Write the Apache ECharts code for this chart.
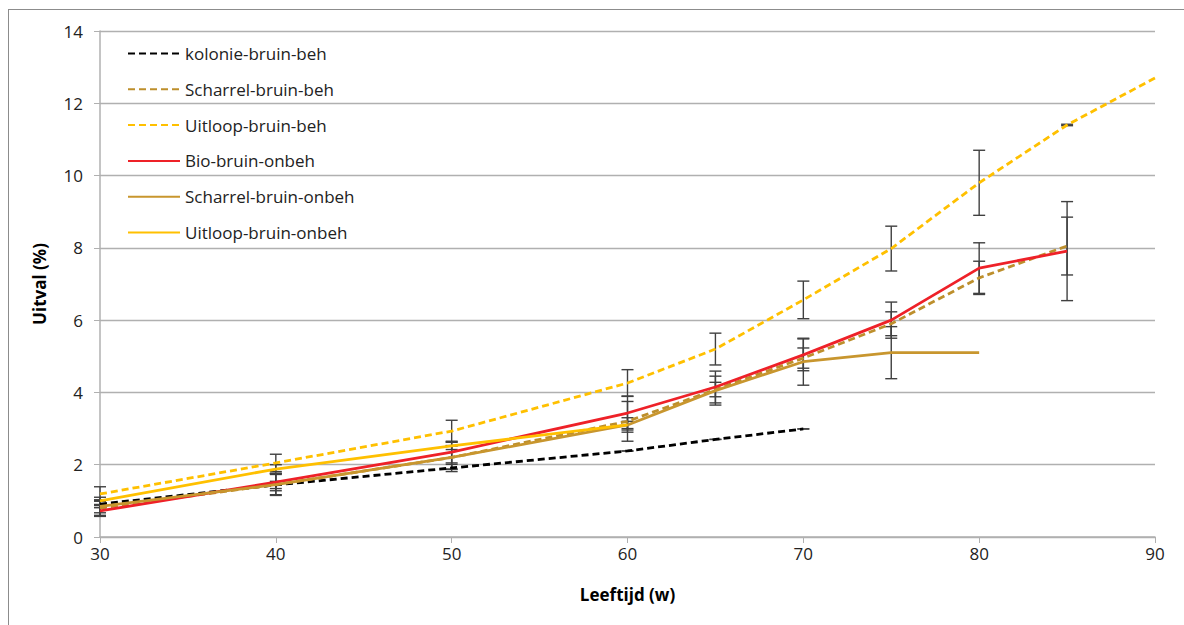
<!DOCTYPE html>
<html>
<head>
<meta charset="utf-8">
<script src="https://cdn.jsdelivr.net/npm/echarts@6/dist/echarts.min.js"></script>
<style>
  html, body { margin: 0; padding: 0; background: #fff; }
  #frame { position: absolute; left: 8px; top: 9px; width: 1190px; height: 640px; border: 1px solid #8c8c8c; box-sizing: border-box; }
  #chart { position: absolute; left: 0; top: 0; width: 1184px; height: 625px; }
</style>
</head>
<body>
<div id="frame"></div>
<div id="chart"></div>
<script>
var ages = [30, 40, 50, 60, 65, 70, 75, 80, 85, 90];

var names = ['kolonie-bruin-beh', 'Scharrel-bruin-beh', 'Uitloop-bruin-beh',
  'Bio-bruin-onbeh', 'Scharrel-bruin-onbeh', 'Uitloop-bruin-onbeh'];

// null = no measurement at that age
var kolonieBeh    = [0.91, 1.44, 1.91, 2.38, 2.70, 2.99, null, null, null, null];
var scharrelBeh   = [0.80, 1.45, 2.20, 3.20, 4.08, 4.95, 5.90, 7.17, 8.05, null];
var uitloopBeh    = [1.19, 2.05, 2.93, 4.26, 5.20, 6.56, 7.98, 9.80, 11.40, 12.70];
var bioOnbeh      = [0.72, 1.52, 2.35, 3.43, 4.15, 5.04, 6.00, 7.44, 7.91, null];
var scharrelOnbeh = [0.85, 1.45, 2.20, 3.10, 4.05, 4.85, 5.10, 5.10, null, null];
var uitloopOnbeh  = [1.00, 1.88, 2.52, 3.10, null, null, null, null, null, null];

// error bar half widths (+/-)
var errKolonieBeh    = [0.10, 0.10, 0.10, 0, 0, 0, null, null, null, null];
var errScharrelBeh   = [0.20, 0.28, 0.33, 0.55, 0.20, 0.28, 0.33, 0.46, 0.80, null];
var errUitloopBeh    = [0.20, 0.24, 0.30, 0.37, 0.44, 0.52, 0.62, 0.90, 0.02, null];
var errBioOnbeh      = [0.15, 0.24, 0.30, 0.47, 0.44, 0.44, 0.50, 0.70, 1.37, null];
var errScharrelOnbeh = [0.18, 0.30, 0.32, 0.20, 0.40, 0.65, 0.72, null, null, null];
var errUitloopOnbeh  = [0.10, 0.12, 0.10, 0.10, null, null, null, null, null, null];

var colors = ['#000000', '#BD8F2C', '#FFC000', '#EE2128', '#C8962E', '#FFC000'];
var dashed = [true, true, true, false, false, false];
var values = [kolonieBeh, scharrelBeh, uitloopBeh, bioOnbeh, scharrelOnbeh, uitloopOnbeh];
var errors = [errKolonieBeh, errScharrelBeh, errUitloopBeh, errBioOnbeh, errScharrelOnbeh, errUitloopOnbeh];

var font = '"Open Sans", "Liberation Sans", sans-serif';

function pairs(vals) {
  var out = [];
  for (var i = 0; i < ages.length; i++) {
    if (vals[i] != null) out.push([ages[i], vals[i]]);
  }
  return out;
}

function errData() {
  var out = [];
  for (var s = 0; s < values.length; s++) {
    for (var i = 0; i < ages.length; i++) {
      if (values[s][i] != null && errors[s][i] != null) {
        out.push([ages[i], values[s][i] - errors[s][i], values[s][i] + errors[s][i]]);
      }
    }
  }
  return out;
}

var series = names.map(function(n, k) {
  return {
    name: n,
    type: 'line',
    data: pairs(values[k]),
    symbol: 'none',
    z: 3 + k,
    itemStyle: { color: colors[k] },
    lineStyle: { color: colors[k], width: 2.8, type: dashed[k] ? [7, 4] : 'solid' }
  };
});

series.push({
  type: 'custom',
  name: 'err',
  z: 2,
  data: errData(),
  renderItem: function(params, api) {
    var x = api.value(0);
    var lo = api.coord([x, api.value(1)]);
    var hi = api.coord([x, api.value(2)]);
    var w = 6;
    var st = { stroke: '#404040', lineWidth: 1.4 };
    return {
      type: 'group',
      children: [
        { type: 'line', shape: { x1: lo[0], y1: lo[1], x2: hi[0], y2: hi[1] }, style: st },
        { type: 'line', shape: { x1: lo[0] - w, y1: lo[1], x2: lo[0] + w, y2: lo[1] }, style: st },
        { type: 'line', shape: { x1: hi[0] - w, y1: hi[1], x2: hi[0] + w, y2: hi[1] }, style: st }
      ]
    };
  }
});

var chart = echarts.init(document.getElementById('chart'), null, { renderer: 'svg' });
chart.setOption({
  animation: false,
  grid: { left: 100, right: 29, top: 31, bottom: 88 },
  legend: {
    data: names,
    orient: 'vertical',
    left: 122,
    top: 40,
    itemWidth: 52,
    itemHeight: 14,
    itemGap: 18.8,
    itemStyle: { opacity: 0 },
    textStyle: { color: '#222', fontSize: 17, fontFamily: font }
  },
  xAxis: {
    type: 'value',
    min: 30, max: 90, interval: 10,
    name: 'Leeftijd (w)',
    nameLocation: 'middle',
    nameGap: 49,
    nameTextStyle: { color: '#000', fontSize: 17, fontWeight: 'bold', fontFamily: font },
    axisLine: { show: true, lineStyle: { color: '#b0b0b0', width: 1.5 } },
    axisTick: { show: true, length: 6, lineStyle: { color: '#b0b0b0' } },
    axisLabel: { color: '#222', fontSize: 17, margin: 8, fontFamily: font },
    splitLine: { show: false }
  },
  yAxis: {
    type: 'value',
    min: 0, max: 14, interval: 2,
    name: 'Uitval (%)',
    nameLocation: 'middle',
    nameGap: 52,
    nameTextStyle: { color: '#000', fontSize: 17, fontWeight: 'bold', fontFamily: font },
    axisLine: { show: true, lineStyle: { color: '#b0b0b0', width: 1.5 } },
    axisTick: { show: true, length: 6, lineStyle: { color: '#b0b0b0' } },
    axisLabel: { color: '#222', fontSize: 17, margin: 17, fontFamily: font },
    splitLine: { show: true, lineStyle: { color: '#b0b0b0', width: 1.3 } }
  },
  series: series
});
</script>
</body>
</html>
